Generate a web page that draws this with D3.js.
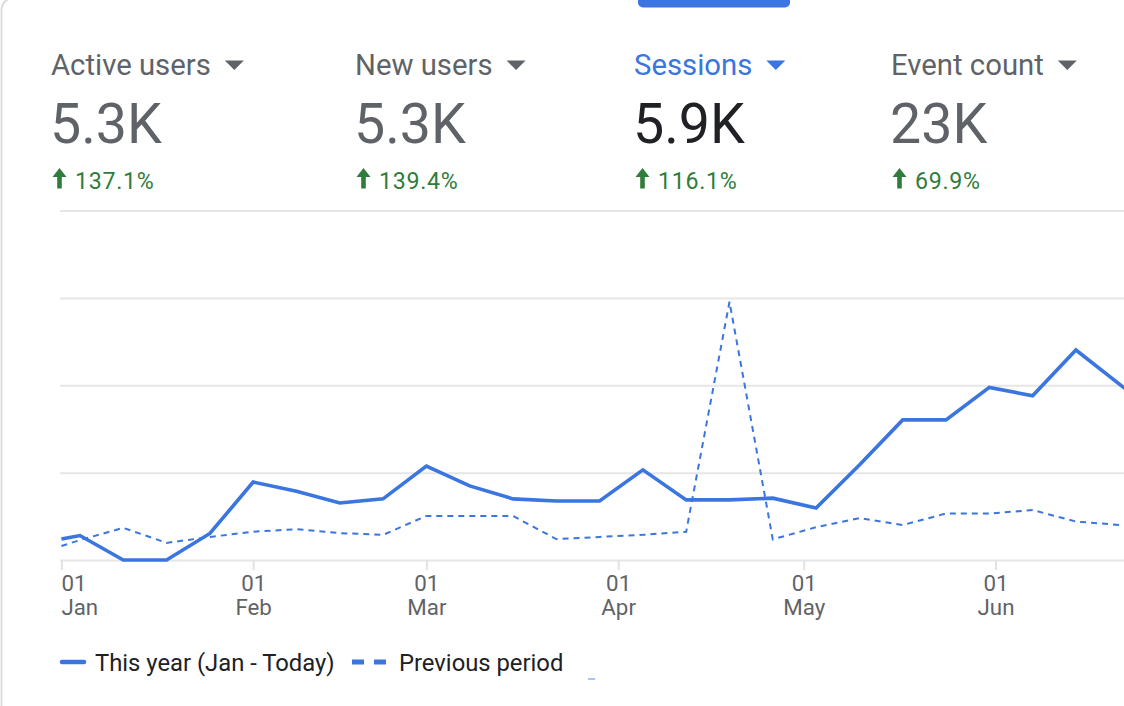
<!DOCTYPE html>
<html>
<head>
<meta charset="utf-8">
<script src="https://cdn.jsdelivr.net/npm/d3@7/dist/d3.min.js"></script>
<style>
	html, body { margin: 0; padding: 0; background: #fff; overflow: hidden; }
	#main { width: 1124px; height: 706px; }
	text { font-family: Roboto, "Noto Sans", sans-serif; }
</style>
</head>
<body>
<div id="main"></div>
<script>
var WIDTH = 1124, HEIGHT = 706;

// metric cards
var metricNames = ["Active users", "New users", "Sessions", "Event count"];
var metricValues = ["5.3K", "5.3K", "5.9K", "23K"];
var metricChanges = ["137.1%", "139.4%", "116.1%", "69.9%"];
var selectedMetric = "Sessions";

// sessions per week (last point lies past the right edge)
var weekDates = ["2023-01-01", "2023-01-04", "2023-01-11", "2023-01-18", "2023-01-25",
	"2023-02-01", "2023-02-08", "2023-02-15", "2023-02-22", "2023-03-01", "2023-03-08",
	"2023-03-15", "2023-03-22", "2023-03-29", "2023-04-05", "2023-04-12", "2023-04-19",
	"2023-04-26", "2023-05-03", "2023-05-10", "2023-05-17", "2023-05-24", "2023-05-31",
	"2023-06-07", "2023-06-14", "2023-06-25"];
var thisYear = [60, 70, 0, 0, 76, 223, 197, 163, 175, 269, 212, 175, 169, 169, 258,
	172, 172, 177, 149, 272, 401, 401, 494, 470, 601, 448];
var previousPeriod = [40, 57, 92, 49, 66, 81, 88, 77, 72, 126, 126, 126, 60, 66, 72,
	81, 739, 59, 94, 120, 100, 133, 133, 143, 110, 95];

var yTicks = [0, 250, 500, 750, 1000];
var monthTicks = ["2023-01-01", "2023-02-01", "2023-03-01", "2023-04-01", "2023-05-01", "2023-06-01"];
var legendLabels = ["This year (Jan - Today)", "Previous period"];

// layout
var cardX = [51, 355, 634, 891];
var plot = { left: 60, right: WIDTH, top: 210.6, bottom: 560 };
var BLUE = "#3a75e0", GREEN = "#2f7d3a", GREY = "#5f6368", DARK = "#202124";

var parse = d3.timeParse("%Y-%m-%d");
var svg, x, y;

function createCanvas() {
	svg = d3.select("#main").append("svg")
		.attr("id", "canvas")
		.attr("width", WIDTH)
		.attr("height", HEIGHT);

	// card edge with rounded corner
	svg.append("path")
		.attr("d", "M1.5," + HEIGHT + " V10 A12,12 0 0 1 13.5,-2 H" + WIDTH)
		.attr("fill", "none")
		.attr("stroke", "#dcdde1")
		.attr("stroke-width", 2);

	// selected tab marker
	svg.append("rect")
		.attr("x", 638).attr("y", -7)
		.attr("width", 152).attr("height", 14.5)
		.attr("rx", 5)
		.attr("fill", BLUE);
}

function drawCards() {
	var cards = svg.selectAll("g.card")
		.data(metricNames)
		.enter().append("g")
			.attr("class", "card")
			.attr("transform", function(d, i) { return "translate(" + cardX[i] + ",0)"; });

	cards.append("text")
		.attr("class", "label")
		.attr("y", 74.5)
		.attr("font-size", 29.3)
		.attr("fill", function(d) { return d === selectedMetric ? BLUE : GREY; })
		.text(function(d) { return d; });

	cards.each(function(d) {
		var g = d3.select(this);
		var w = g.select("text.label").node().getComputedTextLength();
		g.append("path")
			.attr("d", "M" + (w + 14) + ",60.5 h19 l-9.5,9.5 z")
			.attr("fill", d === selectedMetric ? BLUE : GREY);
	});

	cards.append("text")
		.attr("y", 142.5)
		.attr("x", -1)
		.attr("font-size", 55.5)
		.attr("fill", function(d) { return d === selectedMetric ? DARK : GREY; })
		.text(function(d, i) { return metricValues[i]; });

	// up arrow
	cards.append("path")
		.attr("d", "M1.5,177 L8.5,168 L15.5,177 H10.8 V188.5 H6.2 V177 Z")
		.attr("fill", GREEN);

	cards.append("text")
		.attr("x", 24)
		.attr("y", 189)
		.attr("font-size", 23.2)
		.attr("letter-spacing", 0.7)
		.attr("fill", GREEN)
		.text(function(d, i) { return metricChanges[i]; });
}

function drawChart() {
	var dates = weekDates.map(parse);
	var ticks = monthTicks.map(parse);

	x = d3.scaleTime()
		.domain([parse("2023-01-01"), parse("2023-06-25")])
		.range([61.4, 61.4 + 175 * 6.186]);
	y = d3.scaleLinear()
		.domain([0, 1000])
		.range([plot.bottom, plot.top]);

	// horizontal grid
	var grid = svg.append("g")
		.attr("class", "grid")
		.attr("transform", "translate(" + plot.left + ",0)")
		.call(d3.axisLeft(y).tickValues(yTicks).tickSize(-(plot.right - plot.left)).tickFormat(""));
	grid.select(".domain").remove();
	grid.selectAll("line").attr("stroke", "#e6e6e6").attr("stroke-width", 2);

	// x axis with month ticks
	var xAxis = svg.append("g")
		.attr("class", "x-axis")
		.attr("transform", "translate(0," + plot.bottom + ")")
		.call(d3.axisBottom(x).tickValues(ticks).tickSize(10).tickFormat(""));
	xAxis.select(".domain").remove();
	xAxis.selectAll(".tick line").attr("stroke", "#e3e3e3").attr("stroke-width", 2);
	xAxis.selectAll(".tick text").remove();

	var fmtDay = d3.timeFormat("%d"), fmtMonth = d3.timeFormat("%b");
	xAxis.selectAll(".tick").each(function(d, i) {
		var x0 = i === 0 ? -0.5 : 0;
		var t = d3.select(this).append("text")
			.attr("fill", GREY)
			.attr("font-size", 22.3)
			.attr("text-anchor", i === 0 ? "start" : "middle");
		t.append("tspan").attr("x", x0).attr("y", 31).text(fmtDay(d));
		t.append("tspan").attr("x", x0).attr("y", 55).text(fmtMonth(d));
	});

	svg.append("clipPath").attr("id", "plot-clip")
		.append("rect")
			.attr("x", plot.left).attr("y", 0)
			.attr("width", plot.right - plot.left).attr("height", HEIGHT);

	var line = d3.line()
		.x(function(d) { return x(d.date); })
		.y(function(d) { return y(d.value); });

	var container = svg.append("g")
		.attr("id", "container")
		.attr("clip-path", "url(#plot-clip)");

	container.append("path")
		.datum(dates.map(function(d, i) { return { date: d, value: previousPeriod[i] }; }))
		.attr("d", line)
		.attr("fill", "none")
		.attr("stroke", BLUE)
		.attr("stroke-width", 2)
		.attr("stroke-dasharray", "6,5");

	container.append("path")
		.datum(dates.map(function(d, i) { return { date: d, value: thisYear[i] }; }))
		.attr("d", line)
		.attr("fill", "none")
		.attr("stroke", BLUE)
		.attr("stroke-width", 3.6);
}

function drawLegend() {
	var legend = svg.append("g").attr("class", "legend");

	legend.append("line")
		.attr("x1", 62).attr("x2", 84)
		.attr("y1", 662).attr("y2", 662)
		.attr("stroke", BLUE)
		.attr("stroke-width", 4.5)
		.attr("stroke-linecap", "round");
	legend.append("text")
		.attr("x", 95).attr("y", 670.5)
		.attr("font-size", 23.8)
		.attr("fill", DARK)
		.text(legendLabels[0]);

	legend.selectAll("rect.dash")
		.data([352, 374])
		.enter().append("rect")
			.attr("class", "dash")
			.attr("x", function(d) { return d; })
			.attr("y", 659.5)
			.attr("width", 12).attr("height", 5)
			.attr("fill", BLUE);
	legend.append("text")
		.attr("x", 399).attr("y", 670.5)
		.attr("font-size", 23.8)
		.attr("fill", DARK)
		.text(legendLabels[1]);

	// stray focus mark under the legend
	legend.append("line")
		.attr("x1", 588).attr("x2", 595)
		.attr("y1", 679).attr("y2", 679)
		.attr("stroke", "#8ab4f8")
		.attr("stroke-width", 1.5);
}

createCanvas();
drawCards();
drawChart();
drawLegend();
</script>
</body>
</html>
